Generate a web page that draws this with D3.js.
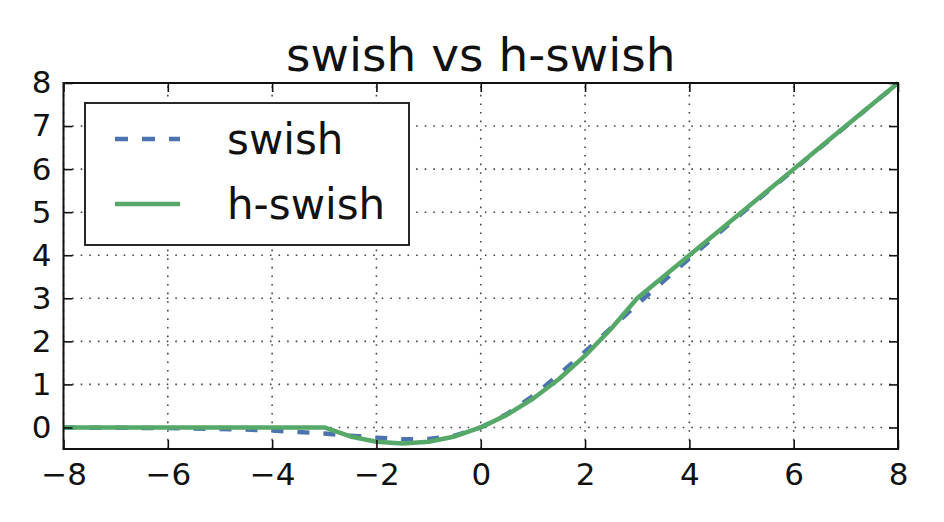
<!DOCTYPE html>
<html>
<head>
<meta charset="utf-8">
<script src="https://cdn.jsdelivr.net/npm/d3@7"></script>
<style>
  body { margin: 0; background: #fff; }
  text { font-family: "DejaVu Sans", sans-serif; fill: #111; }
</style>
</head>
<body>
<div id="viz"></div>
<script>
// x samples
const xValues = [
  -8, -7.5, -7, -6.5, -6, -5.5, -5, -4.5, -4, -3.5, -3, -2.5, -2, -1.5, -1, -0.5,
  0, 0.5, 1, 1.5, 2, 2.5, 3, 3.5, 4, 4.5, 5, 5.5, 6, 6.5, 7, 7.5, 8
];
const swishValues = [
  -0.003, -0.004, -0.006, -0.01, -0.015, -0.022, -0.033, -0.049, -0.072, -0.103, -0.142, -0.19, -0.238, -0.274, -0.269, -0.189,
  0, 0.311, 0.731, 1.226, 1.762, 2.31, 2.858, 3.397, 3.928, 4.451, 4.967, 5.478, 5.985, 6.49, 6.994, 7.496, 7.997
];
const hswishValues = [
  0, 0, 0, 0, 0, 0, 0, 0, 0, 0, 0, -0.208, -0.333, -0.375, -0.333, -0.208,
  0, 0.292, 0.667, 1.125, 1.667, 2.292, 3, 3.5, 4, 4.5, 5, 5.5, 6, 6.5, 7, 7.5, 8
];
const xTicks = [-8, -6, -4, -2, 0, 2, 4, 6, 8];
const yTicks = [0, 1, 2, 3, 4, 5, 6, 7, 8];
const seriesNames = ["swish", "h-swish"];

const width = 944;
const height = 522;
const margin = { left: 63.5, right: 46, top: 83, bottom: 73 };
const blue = "#4c72b0";
const green = "#55a868";

const svg = d3
  .select("#viz")
  .append("svg")
  .attr("width", width)
  .attr("height", height);

const x = d3
  .scaleLinear()
  .domain([-8, 8])
  .range([margin.left, width - margin.right]);
const y = d3
  .scaleLinear()
  .domain([-0.5, 8])
  .range([height - margin.bottom, margin.top]);

// dotted grid
svg
  .selectAll("line.vgrid")
  .data(xTicks)
  .enter()
  .append("line")
  .classed("vgrid", true)
  .attr("x1", (d) => x(d))
  .attr("x2", (d) => x(d))
  .attr("y1", y.range()[0])
  .attr("y2", y.range()[1])
  .attr("stroke", "#444")
  .attr("stroke-width", 1.6)
  .attr("stroke-dasharray", "1.6,7");

svg
  .selectAll("line.hgrid")
  .data(yTicks)
  .enter()
  .append("line")
  .classed("hgrid", true)
  .attr("x1", x.range()[0])
  .attr("x2", x.range()[1])
  .attr("y1", (d) => y(d))
  .attr("y2", (d) => y(d))
  .attr("stroke", "#444")
  .attr("stroke-width", 1.6)
  .attr("stroke-dasharray", "1.6,7");

// curves
const swishLine = d3
  .line()
  .x((d, i) => x(xValues[i]))
  .y((d) => y(d));

svg
  .append("path")
  .datum(swishValues)
  .attr("d", swishLine)
  .attr("fill", "none")
  .attr("stroke", blue)
  .attr("stroke-width", 4.5)
  .attr("stroke-dasharray", "12,14");

svg
  .append("path")
  .datum(hswishValues)
  .attr("d", swishLine)
  .attr("fill", "none")
  .attr("stroke", green)
  .attr("stroke-width", 4.5)
  .attr("stroke-linejoin", "round");

// axes, ticks pointing inward on all four sides
const tickLen = 9;
svg
  .append("g")
  .attr("transform", `translate(0,${y.range()[0]})`)
  .call(d3.axisBottom(x).tickValues(xTicks).tickSizeInner(-tickLen).tickSizeOuter(0).tickPadding(14).tickFormat(d3.format("")))
  .call((g) => g.select(".domain").remove())
  .call((g) => g.selectAll("text").attr("font-size", 31).attr("font-family", "DejaVu Sans"));

svg
  .append("g")
  .attr("transform", `translate(0,${y.range()[1]})`)
  .call(d3.axisTop(x).tickValues(xTicks).tickSizeInner(-tickLen).tickSizeOuter(0).tickFormat(""))
  .call((g) => g.select(".domain").remove());

svg
  .append("g")
  .attr("transform", `translate(${x.range()[0]},0)`)
  .call(d3.axisLeft(y).tickValues(yTicks).tickSizeInner(-tickLen).tickSizeOuter(0).tickPadding(12).tickFormat(d3.format("d")))
  .call((g) => g.select(".domain").remove())
  .call((g) => g.selectAll("text").attr("font-size", 31).attr("font-family", "DejaVu Sans"));

svg
  .append("g")
  .attr("transform", `translate(${x.range()[1]},0)`)
  .call(d3.axisRight(y).tickValues(yTicks).tickSizeInner(-tickLen).tickSizeOuter(0).tickFormat(""))
  .call((g) => g.select(".domain").remove());

svg.selectAll(".tick line").attr("stroke", "#111").attr("stroke-width", 1.6);
svg.selectAll(".tick text").attr("fill", "#111");

// frame
svg
  .append("rect")
  .attr("x", x.range()[0])
  .attr("y", y.range()[1])
  .attr("width", x.range()[1] - x.range()[0])
  .attr("height", y.range()[0] - y.range()[1])
  .attr("fill", "none")
  .attr("stroke", "#111")
  .attr("stroke-width", 2);

// title
svg
  .append("text")
  .attr("x", (x.range()[0] + x.range()[1]) / 2)
  .attr("y", 71)
  .attr("text-anchor", "middle")
  .attr("font-size", 47)
  .text("swish vs h-swish");

// legend
const legend = svg.append("g");
legend
  .append("rect")
  .attr("x", 85)
  .attr("y", 103)
  .attr("width", 324)
  .attr("height", 142)
  .attr("fill", "#fff")
  .attr("stroke", "#111")
  .attr("stroke-width", 1.8);

const legendItems = legend
  .selectAll("g.item")
  .data(seriesNames)
  .enter()
  .append("g")
  .classed("item", true)
  .attr("transform", (d, i) => `translate(0,${139 + 65 * i})`);

legendItems
  .append("line")
  .attr("x1", 115)
  .attr("x2", 180)
  .attr("stroke", (d, i) => (i === 0 ? blue : green))
  .attr("stroke-width", 4.5)
  .attr("stroke-dasharray", (d, i) => (i === 0 ? "13,14" : null));

legendItems
  .append("text")
  .attr("x", 227)
  .attr("y", 15)
  .attr("font-size", 42)
  .text((d) => d);
</script>
</body>
</html>
